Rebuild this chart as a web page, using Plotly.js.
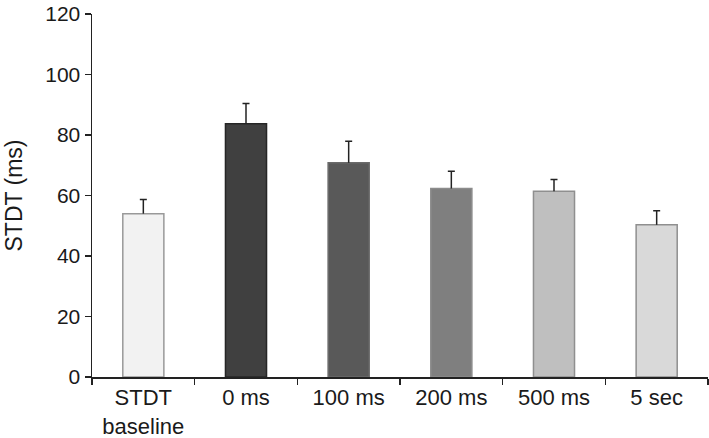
<!DOCTYPE html>
<html>
<head>
<meta charset="utf-8">
<script src="https://cdn.plot.ly/plotly-3.0.1.min.js"></script>
<style>html,body{margin:0;padding:0;background:#fff;}#chart{width:709px;height:438px;}</style>
</head>
<body>
<div id="chart"></div>
<script>
const categories = ['STDT<br>baseline', '0 ms', '100 ms', '200 ms', '500 ms', '5 sec'];
const values = [54.0, 83.7, 70.8, 62.3, 61.4, 50.3];
const errors = [4.7, 6.7, 7.1, 5.7, 3.9, 4.7];
const fillColors = ['#f2f2f2', '#404040', '#595959', '#7f7f7f', '#bfbfbf', '#d9d9d9'];
const lineColors = ['#999999', '#262626', '#6a6a6a', '#8c8c8c', '#8f8f8f', '#8f8f8f'];
const yTicks = [0, 20, 40, 60, 80, 100, 120];

const bars = {
  type: 'bar',
  x: categories,
  y: values,
  width: 0.4,
  marker: {color: fillColors, line: {color: lineColors, width: 1.5}},
  hoverinfo: 'none'
};
// vertical stem of the upper error bar (no caps)
const stems = {
  type: 'scatter', mode: 'markers',
  x: categories, y: values,
  marker: {size: 1, opacity: 0},
  error_y: {type: 'data', array: errors, symmetric: false, arrayminus: errors.map(() => 0),
            color: '#222', thickness: 1.5, width: 0},
  hoverinfo: 'none'
};
// cap at the top of each error bar
const caps = {
  type: 'scatter', mode: 'markers',
  x: categories, y: values.map((v, i) => v + errors[i]),
  marker: {size: 1, opacity: 0},
  error_y: {type: 'data', array: errors.map(() => 0), symmetric: true,
            color: '#222', thickness: 1.5, width: 3.5},
  hoverinfo: 'none'
};

const layout = {
  width: 709, height: 438,
  margin: {l: 92, r: 1, t: 14, b: 61},
  paper_bgcolor: '#fff', plot_bgcolor: '#fff',
  showlegend: false,
  font: {family: 'Liberation Sans, Arial, sans-serif', size: 21, color: '#1a1a1a'},
  xaxis: {
    type: 'category',
    showline: true, linecolor: '#222', linewidth: 1.5,
    ticks: 'outside', tickson: 'boundaries', ticklen: 6, tickwidth: 1.5, tickcolor: '#222',
    showgrid: false, zeroline: false,
    tickfont: {size: 22, color: '#1a1a1a'}
  },
  yaxis: {
    range: [0, 120], tickvals: yTicks, ticktext: yTicks.map(String),
    showline: true, linecolor: '#222', linewidth: 1.5,
    ticks: 'outside', ticklen: 6, tickwidth: 1.5, tickcolor: '#222',
    showgrid: false, zeroline: false,
    tickfont: {size: 21, color: '#1a1a1a'},
    title: {text: 'STDT (ms)', font: {size: 23, color: '#1a1a1a'}, standoff: 16}
  }
};

Plotly.newPlot('chart', [bars, stems, caps], layout, {staticPlot: true, displayModeBar: false});
</script>
</body>
</html>
